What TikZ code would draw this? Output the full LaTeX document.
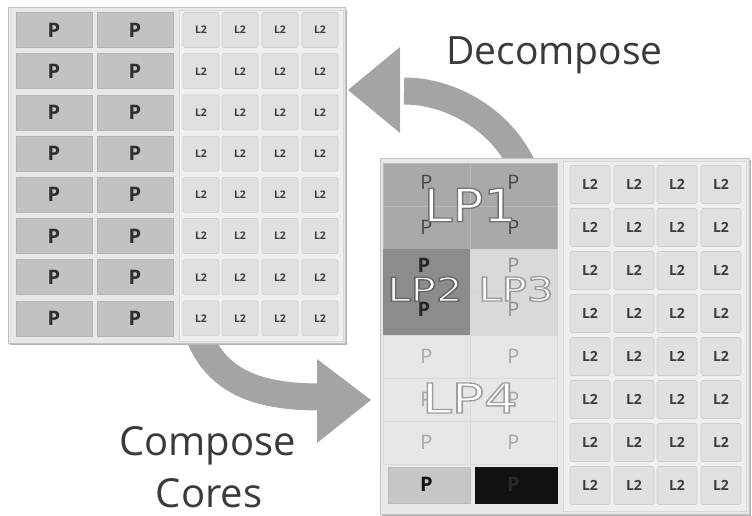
\documentclass[tikz,border=0pt]{standalone}
\usepackage{fontspec}
\setmainfont{Open Sans}
\newfontfamily\lpfont{DejaVu Sans}
\usepackage{graphicx}
\newcommand{\lpoutline}[2]{\special{pdf:literal direct 2 Tr 1.3 w #1 G}#2\special{pdf:literal direct 0 Tr}}
\definecolor{panelbg}{HTML}{E8E8E8}
\definecolor{panelline}{HTML}{C2C2C2}
\definecolor{shadowc}{HTML}{B4B4B4}
\definecolor{ltbg}{HTML}{EFEFEF}
\definecolor{ltline}{HTML}{D8D8D8}
\definecolor{pfill}{HTML}{C2C2C2}
\definecolor{pline}{HTML}{B4B4B4}
\definecolor{ptext}{HTML}{2E2E2E}
\definecolor{lfill}{HTML}{E0E0E0}
\definecolor{lline}{HTML}{CDCDCD}
\definecolor{ltext}{HTML}{3C3C3C}
\definecolor{arrowc}{HTML}{A4A4A4}
\definecolor{labelc}{HTML}{3A3A3A}
\definecolor{lpone}{HTML}{A9A9A9}
\definecolor{lponeline}{HTML}{B9B9B9}
\definecolor{lptwo}{HTML}{8C8C8C}
\definecolor{lpthree}{HTML}{D9D9D9}
\definecolor{lpfour}{HTML}{E6E6E6}
\definecolor{lastfill}{HTML}{C6C6C6}
\definecolor{lastline}{HTML}{BCBCBC}
\definecolor{blk}{HTML}{111111}
\definecolor{blktext}{HTML}{2A2A2A}
\begin{document}
\begin{tikzpicture}[x=1pt,y=-1pt,
  panel/.style={fill=panelbg, draw=panelline, line width=1pt},
  backdrop/.style={fill=ltbg, draw=ltline, line width=0.6pt},
  pcell/.style={draw=pline, fill=pfill, line width=0.6pt, minimum width=76pt, minimum height=35pt, inner sep=0pt,
    font=\bfseries\fontsize{20}{20}\selectfont, text=ptext},
  lcell/.style={draw=lline, fill=lfill, line width=0.6pt, rounded corners=1.5pt, inner sep=0pt,
    font=\bfseries\fontsize{10.5}{10.5}\selectfont, text=ltext},
  lcellL/.style={lcell, minimum width=36pt, minimum height=35pt},
  lcellR/.style={lcell, minimum width=40pt, minimum height=38pt, font=\bfseries\fontsize{14}{14}\selectfont},
  rcell/.style={line width=0.6pt, minimum width=87pt, minimum height=43pt, inner sep=0pt},
  ptxt/.style={inner sep=0pt, font=\fontsize{20}{20}\selectfont},
  bigtxt/.style={inner sep=0pt, text=white},
  shaft/.style={draw=arrowc, line width=27pt},
  head/.style={fill=arrowc},
  caption/.style={inner sep=0pt, anchor=base, text=labelc}
]
\useasboundingbox (0,0) rectangle (752,516);

% ---------- arrows (behind the panels) ----------
\coordinate (dstart) at (528,180);
\coordinate (dbase) at (404,91);
\coordinate (dtip) at (348,90);
\coordinate (dtop) at (400,47);
\coordinate (dbot) at (400,133);
\draw[shaft] (dstart) .. controls (510,125) and (455,91) .. (dbase);
\fill[head] (dtip) -- (dtop) -- (dbot) -- cycle;

\coordinate (cstart) at (194,320);
\coordinate (cbase) at (321,397);
\coordinate (ctip) at (371,400);
\coordinate (ctop) at (317,359);
\coordinate (cbot) at (317,443);
\draw[shaft] (cstart) .. controls (210,385) and (262,397) .. (cbase);
\fill[head] (ctip) -- (ctop) -- (cbot) -- cycle;

% ---------- left panel ----------
\fill[shadowc] (10,10) rectangle (347,345);
\draw[panel] (8,8) rectangle (345,343);
\draw[backdrop] (179,10) rectangle (343,341);
\foreach \r in {1,...,8}{
  \pgfmathsetmacro{\yy}{30+41.2*(\r-1)}
  \node[pcell] (lp-\r-1) at (54,\yy) {P};
  \node[pcell] (lp-\r-2) at (135,\yy) {P};
  \foreach \c/\xx in {1/201,2/240,3/280,4/320}{
    \node[lcellL] (ll-\r-\c) at (\xx,\yy) {L2};
  }
}

% ---------- right panel ----------
\fill[shadowc] (382,160) rectangle (751,516);
\draw[panel] (380,158) rectangle (749,514);
\draw[backdrop] (563,161) rectangle (746,511);
\foreach \r in {1,...,8}{
  \pgfmathsetmacro{\yy}{184.5+43*(\r-1)}
  \foreach \c/\xx in {1/590,2/634,3/677,4/721}{
    \node[lcellR] (rl-\r-\c) at (\xx,\yy) {L2};
  }
}
% LP1 block
\foreach \r/\yy in {1/184.5,2/227.5}{
  \node[rcell, fill=lpone, draw=lponeline] (rp-\r-1) at (426.5,\yy) {};
  \node[rcell, fill=lpone, draw=lponeline] (rp-\r-2) at (513.5,\yy) {};
}
\node[ptxt, text=black!72] (rt-1-1) at (426.5,182) {P};
\node[ptxt, text=black!72] (rt-1-2) at (513.5,182) {P};
\node[ptxt, text=black!72] (rt-2-1) at (426.5,227) {P};
\node[ptxt, text=black!72] (rt-2-2) at (513.5,227) {P};
% LP2 / LP3 blocks
\foreach \r/\yy in {3/270.5,4/313.5}{
  \node[rcell, fill=lptwo, draw=lptwo] (rp-\r-1) at (426.5,\yy) {};
  \node[rcell, fill=lpthree, draw=black!17] (rp-\r-2) at (513.5,\yy) {};
}
\node[ptxt, font=\bfseries\fontsize{20}{20}\selectfont, text=black!85] (rt-3-1) at (424,265) {P};
\node[ptxt, font=\bfseries\fontsize{20}{20}\selectfont, text=black!85] (rt-4-1) at (424,309) {P};
\node[ptxt, text=black!45] (rt-3-2) at (513.5,265) {P};
\node[ptxt, text=black!45] (rt-4-2) at (513.5,309) {P};
% LP4 block
\foreach \r/\yy in {5/356.5,6/399.5,7/442.5}{
  \node[rcell, fill=lpfour, draw=black!15] (rp-\r-1) at (426.5,\yy) {};
  \node[rcell, fill=lpfour, draw=black!15] (rp-\r-2) at (513.5,\yy) {};
  \node[ptxt, text=black!35] (rt-\r-1) at (426.5,\yy) {P};
  \node[ptxt, text=black!35] (rt-\r-2) at (513.5,\yy) {P};
}
% last row
\node[rcell, minimum width=82pt, minimum height=36pt, fill=lastfill, draw=lastline] (rp-8-1) at (429,485) {};
\node[rcell, minimum width=82pt, minimum height=36pt, fill=blk, draw=blk] (rp-8-2) at (516,485) {};
\node[ptxt, font=\bfseries\fontsize{20}{20}\selectfont, text=blk] (rt-8-1) at (426.5,484) {P};
\node[ptxt, font=\bfseries\fontsize{20}{20}\selectfont, text=blktext] (rt-8-2) at (513.5,484) {P};

% big labels
\node[bigtxt] (lp1) at (470,205) {\lpfont\fontsize{46}{46}\selectfont\scalebox{1.12}[1]{\lpoutline{0.45}{LP1}}};
\node[bigtxt] (lp2) at (425,289) {\lpfont\fontsize{33}{33}\selectfont\scalebox{1.27}[1]{\lpoutline{0.40}{LP2}}};
\node[bigtxt] (lp3) at (516,289) {\lpfont\fontsize{33}{33}\selectfont\scalebox{1.27}[1]{\lpoutline{0.60}{LP3}}};
\node[bigtxt] (lp4) at (470,398) {\lpfont\fontsize{41}{41}\selectfont\scalebox{1.3}[1]{\lpoutline{0.62}{LP4}}};

% captions
\node[caption, font=\fontsize{39}{39}\selectfont] (decomp) at (554.5,65) {Decompose};
\node[caption, font=\fontsize{40}{40}\selectfont] (comp1) at (207.5,455) {Compose};
\node[caption, font=\fontsize{40}{40}\selectfont] (comp2) at (209,507) {Cores};
\end{tikzpicture}
\end{document}
